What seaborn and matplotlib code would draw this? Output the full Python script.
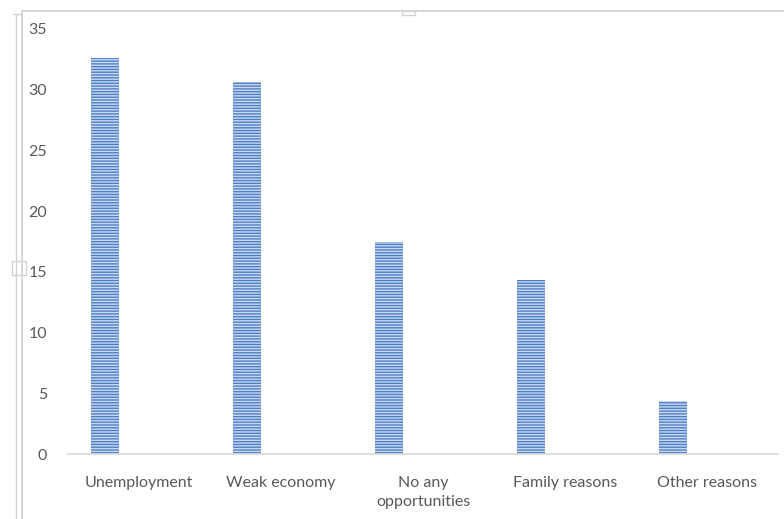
import matplotlib
matplotlib.use("Agg")
import matplotlib.pyplot as plt
from matplotlib.lines import Line2D
from matplotlib.patches import Rectangle
import seaborn as sns
import pandas as pd

categories = ["Unemployment", "Weak economy", "No any\nopportunities",
              "Family reasons", "Other reasons"]
values = [32.6, 30.6, 17.5, 14.3, 4.4]
y_ticks = [0, 5, 10, 15, 20, 25, 30, 35]

df = pd.DataFrame({"reason": categories, "share": values})

sns.set_theme(style="white")
plt.rcParams["font.family"] = ["Lato", "DejaVu Sans"]
plt.rcParams["hatch.linewidth"] = 1.0

W, H = 784, 519
fig = plt.figure(figsize=(W / 100, H / 100), dpi=100)
ax = fig.add_axes([68 / W, 1 - 454 / H, 710 / W, 425 / H])

sns.barplot(data=df, x="reason", y="share", ax=ax, width=0.2,
            color="#4E7FC6", saturation=1, edgecolor="#C9D9F0",
            linewidth=0, hatch="------")

# bars sit left of the category centre, as in a two-series cluster
for p in ax.patches:
    p.set_x(p.get_x() - 0.24)
    p.set_hatch("------")

ax.set_xlim(-0.5, len(categories) - 0.5)
ax.set_ylim(0, 35)
ax.set_yticks(y_ticks)
ax.set_xlabel("")
ax.set_ylabel("")
for s in ["top", "right", "left"]:
    ax.spines[s].set_visible(False)
ax.spines["bottom"].set_color("#D9D9D9")
ax.spines["bottom"].set_linewidth(1.2)
ax.tick_params(axis="both", length=0, colors="#595959", labelsize=11.5)
ax.tick_params(axis="y", pad=15)
ax.tick_params(axis="x", pad=16)
for t in ax.get_xticklabels():
    t.set_linespacing(1.45)
ax.grid(False)

# chart frame with selection handles
fc = "#D4D4D4"
fig.add_artist(Line2D([22 / W, 1], [1 - 11 / H, 1 - 11 / H], color=fc, lw=1.3))
fig.add_artist(Line2D([22 / W, 22 / W], [0, 1 - 11 / H], color=fc, lw=1.3))
fig.add_artist(Line2D([16 / W, 16 / W], [0, 1 - 14 / H], color=fc, lw=1.0))
fig.add_artist(Line2D([13 / W, 22 / W], [1 - 14 / H, 1 - 14 / H], color=fc, lw=1.0))
fig.add_artist(Rectangle((12 / W, 1 - 275 / H), 14 / W, 14 / H,
                         transform=fig.transFigure, facecolor="white",
                         edgecolor=fc, lw=1.0))
fig.add_artist(Rectangle((402 / W, 1 - 15 / H), 13 / W, 4 / H,
                         transform=fig.transFigure, facecolor="white",
                         edgecolor=fc, lw=1.0))

fig.savefig("out.png", dpi=100)
